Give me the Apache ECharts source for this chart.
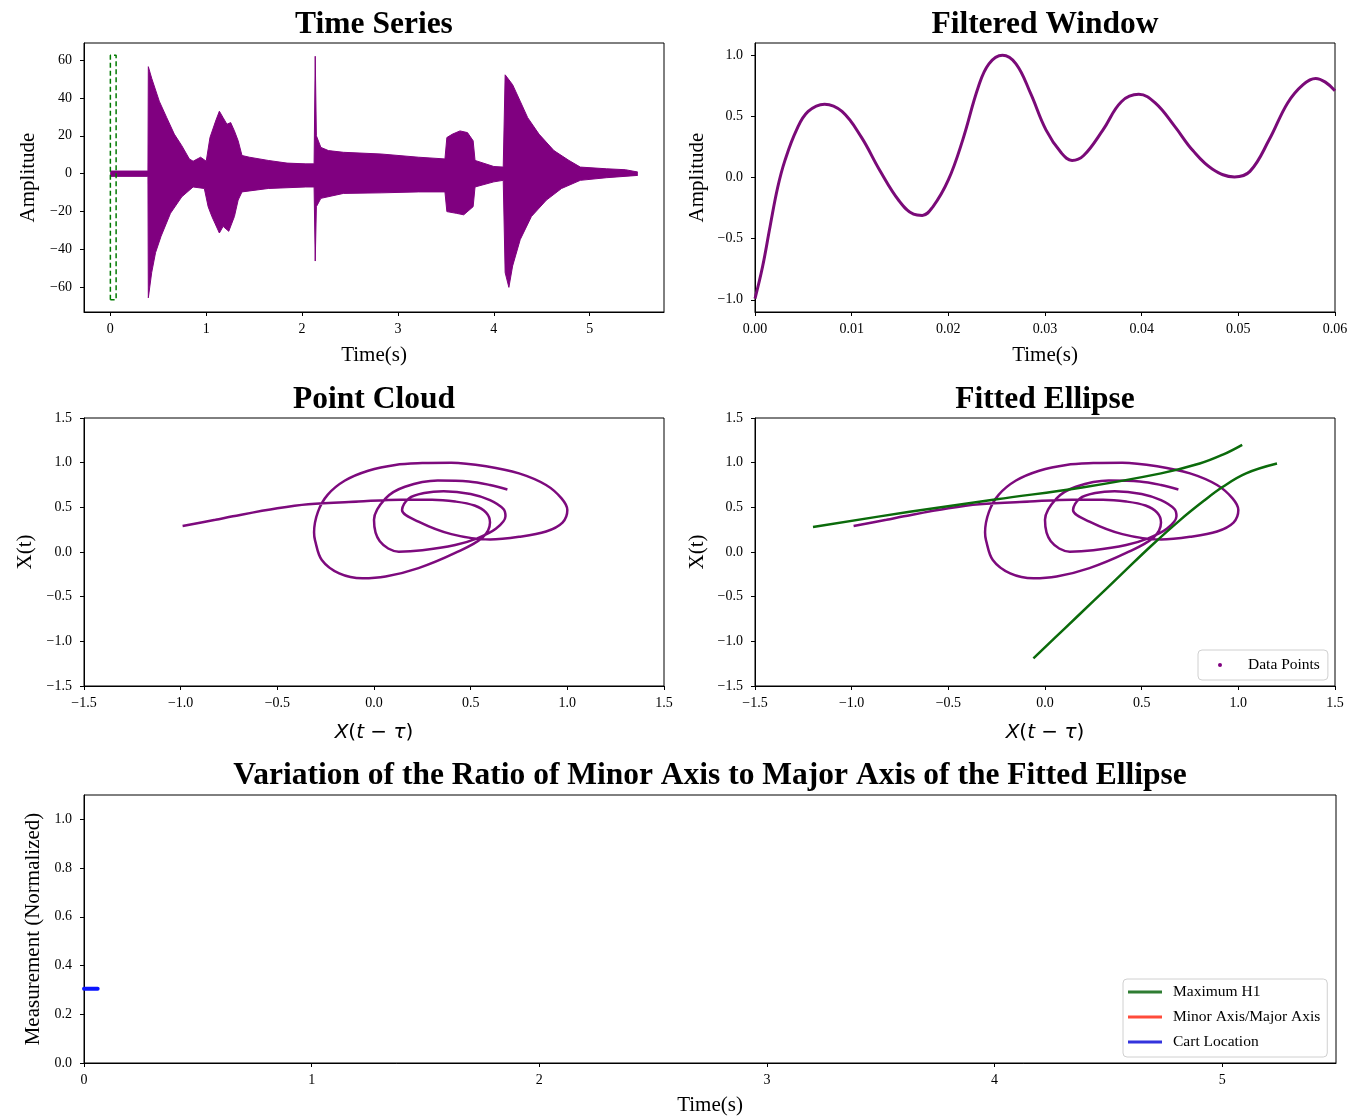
<!DOCTYPE html>
<html>
<head>
<meta charset="utf-8">
<script src="https://cdn.jsdelivr.net/npm/echarts@6.0.0/dist/echarts.min.js"></script>
<style>html,body{margin:0;padding:0;background:#fff}#c{width:1361px;height:1117px}</style>
</head>
<body>
<div id="c"></div>
<script>
// ---------- Time Series (envelope of the dense recording) ----------
const tsUpperTime = [0, 0.392, 0.396, 0.431, 0.51, 0.588, 0.667, 0.745, 0.824, 0.863, 0.941, 1.0, 1.039, 1.098, 1.137, 1.176, 1.216, 1.255, 1.294, 1.333, 1.373, 1.451, 1.647, 1.843, 2.039, 2.125, 2.137, 2.149, 2.196, 2.275, 2.431, 2.824, 3.216, 3.49, 3.51, 3.569, 3.647, 3.725, 3.784, 3.804, 4.0, 4.098, 4.118, 4.137, 4.196, 4.275, 4.353, 4.471, 4.627, 4.784, 4.902, 5.176, 5.373, 5.5];
const tsUpper = [1.4, 1.4, 56.5, 50.4, 38.3, 29.6, 20.9, 14.8, 7.8, 6.6, 8.7, 6.6, 19.1, 27.8, 33.0, 29.6, 26.1, 27.0, 22.6, 17.4, 9.6, 8.7, 7.0, 5.6, 5.2, 5.2, 62, 20.0, 13.9, 12.2, 11.3, 10.4, 8.7, 7.8, 19.1, 20.9, 22.6, 21.7, 17.4, 7.0, 3.8, 3.5, 52.2, 53.0, 47.0, 38.3, 29.6, 20.9, 12.2, 7.0, 3.5, 2.6, 2.1, 0.9];
const tsLowerTime = [0, 0.392, 0.396, 0.431, 0.471, 0.529, 0.627, 0.745, 0.863, 0.98, 1.02, 1.059, 1.137, 1.176, 1.235, 1.294, 1.333, 1.373, 1.647, 2.039, 2.125, 2.137, 2.149, 2.196, 2.431, 2.824, 3.216, 3.49, 3.51, 3.608, 3.686, 3.784, 3.804, 4.0, 4.098, 4.118, 4.157, 4.196, 4.275, 4.392, 4.549, 4.706, 4.902, 5.176, 5.5];
const tsLower = [-1.4, -1.4, -65.5, -52.2, -41.7, -33.0, -20.9, -12.2, -7.0, -7.8, -17.4, -22.6, -31.3, -27.8, -30.4, -22.6, -13.9, -9.6, -7.8, -7.0, -7.0, -46.1, -17.4, -13.0, -10.4, -10.1, -9.6, -9.6, -20.0, -20.9, -21.7, -17.4, -7.0, -4.3, -3.5, -52.2, -60.0, -48.7, -34.8, -22.6, -13.9, -7.8, -3.5, -2.1, -0.9];
const windowStart = 0, windowEnd = 0.06, windowLow = -66.5, windowHigh = 62.5;
const tsXTicks = [0, 1, 2, 3, 4, 5];
const tsYTicks = [-60, -40, -20, 0, 20, 40, 60];

// ---------- Filtered Window ----------
const fwTime = [0, 0.00078, 0.00156, 0.00235, 0.0031, 0.0043, 0.0055, 0.0072, 0.009, 0.011, 0.0129, 0.0149, 0.0164, 0.0173, 0.0184, 0.020, 0.0215, 0.0231, 0.0242, 0.0256, 0.027, 0.0285, 0.0301, 0.0317, 0.0328, 0.034, 0.036, 0.0379, 0.0397, 0.0414, 0.0434, 0.0453, 0.0473, 0.0496, 0.0512, 0.0532, 0.0551, 0.0567, 0.058, 0.059, 0.060];
const fwValue = [-0.99, -0.73, -0.40, -0.08, 0.14, 0.39, 0.54, 0.60, 0.54, 0.33, 0.06, -0.19, -0.30, -0.31, -0.24, -0.02, 0.31, 0.74, 0.93, 1.00, 0.93, 0.69, 0.39, 0.20, 0.14, 0.18, 0.39, 0.62, 0.68, 0.61, 0.42, 0.22, 0.07, 0.005, 0.05, 0.31, 0.61, 0.76, 0.81, 0.78, 0.71];
const fwXTicks = [0, 0.01, 0.02, 0.03, 0.04, 0.05, 0.06];
const fwYTicks = [-1.0, -0.5, 0.0, 0.5, 1.0];

// ---------- Point Cloud (delay embedding) ----------
const pcLagged = [-0.99, -0.82, -0.73, -0.5, -0.34, -0.08, 0.14, 0.3, 0.42, 0.52, 0.58, 0.6, 0.56, 0.42, 0.23, 0.06, -0.06, -0.18, -0.27, -0.305, -0.31, -0.29, -0.24, -0.15, -0.03, 0.11, 0.25, 0.40, 0.58, 0.75, 0.89, 0.97, 1.0, 0.975, 0.89, 0.75, 0.6, 0.40, 0.23, 0.145, 0.18, 0.26, 0.36, 0.5, 0.6, 0.67, 0.68, 0.63, 0.53, 0.42, 0.25, 0.128, 0.03, 0.0, 0.06, 0.16, 0.33, 0.49, 0.6, 0.69];
const pcCurrent = [0.29, 0.36, 0.40, 0.49, 0.535, 0.565, 0.585, 0.585, 0.565, 0.52, 0.44, 0.33, 0.16, -0.01, -0.18, -0.275, -0.295, -0.24, -0.09, 0.13, 0.22, 0.45, 0.64, 0.80, 0.91, 0.975, 0.995, 1.0, 0.96, 0.88, 0.75, 0.6, 0.47, 0.33, 0.23, 0.17, 0.14, 0.20, 0.34, 0.47, 0.60, 0.66, 0.68, 0.65, 0.58, 0.48, 0.40, 0.26, 0.15, 0.078, 0.02, 0.004, 0.12, 0.36, 0.6, 0.73, 0.8, 0.79, 0.75, 0.7];
const pcTicks = [-1.5, -1.0, -0.5, 0.0, 0.5, 1.0, 1.5];

// ---------- Fitted conic (two branches) ----------
const fitBranch1X = [-1.2, -0.7, -0.25, 0.2, 0.6, 0.8, 0.92, 1.02];
const fitBranch1Y = [0.28, 0.45, 0.59, 0.725, 0.88, 0.99, 1.09, 1.2];
const fitBranch2X = [-0.06, 0.1, 0.25, 0.4, 0.55, 0.7, 0.82, 0.92, 1.04, 1.2];
const fitBranch2Y = [-1.19, -0.86, -0.55, -0.24, 0.07, 0.36, 0.57, 0.73, 0.88, 0.99];

// ---------- Ratio panel ----------
const h1Time = [], h1Value = [];
const ratioTime = [], ratioValue = [];
const cartTime = [0.0, 0.06];
const cartValue = [0.305, 0.305];
const ratioXTicks = [0, 1, 2, 3, 4, 5];
const ratioYTicks = [0.0, 0.2, 0.4, 0.6, 0.8, 1.0];

// ---------- helpers ----------
const FONT = 'Liberation Serif';
const PURPLE = '#800080';
const pairs = (a, b) => a.map((v, i) => [v, b[i]]);
const fmtNum = (v, dec) => (v < -1e-9 ? '\u2212' : '') + Math.abs(v).toFixed(dec);

function axis(dim, gridIndex, min, max, ticks, dec, extra) {
  return Object.assign({
    type: 'value', gridIndex, min, max,
    axisLine: {show: true, onZero: false, lineStyle: {color: '#000', width: 1}},
    axisTick: {show: true, inside: false, length: 4, lineStyle: {color: '#000'}, customValues: ticks},
    axisLabel: {show: true, customValues: ticks, color: '#000', fontFamily: FONT, fontSize: 14,
      margin: dim === 'x' ? 10 : 12, formatter: v => fmtNum(v, dec)},
    splitLine: {show: false},
    nameLocation: 'middle',
    nameTextStyle: {fontFamily: FONT, fontSize: 21, color: '#000'}
  }, extra || {});
}
const mathName = {
  rich: {
    i: {fontFamily: 'DejaVu Sans', fontStyle: 'italic', fontSize: 20, color: '#000'},
    r: {fontFamily: 'DejaVu Sans', fontSize: 20, color: '#000'}
  }
};
const mathLabel = '{i|X}{r|(}{i|t}{r| \u2212 }{i|\u03c4}{r|)}';
const gridBase = {show: true, borderColor: '#000', borderWidth: 1, containLabel: false};
const titleStyle = {fontFamily: FONT, fontWeight: 'bold', fontSize: 31.5, color: '#000'};

const option = {
  animation: false,
  backgroundColor: '#fff',
  textStyle: {fontFamily: FONT},
  title: [
    {text: 'Time Series', left: 374, top: 8.5, textAlign: 'center', padding: 0, textStyle: titleStyle},
    {text: 'Filtered Window', left: 1045, top: 8.5, textAlign: 'center', padding: 0, textStyle: titleStyle},
    {text: 'Point Cloud', left: 374, top: 383.5, textAlign: 'center', padding: 0, textStyle: titleStyle},
    {text: 'Fitted Ellipse', left: 1045, top: 383.5, textAlign: 'center', padding: 0, textStyle: titleStyle},
    {text: 'Variation of the Ratio of Minor Axis to Major Axis of the Fitted Ellipse', left: 710, top: 759.5, textAlign: 'center', padding: 0, textStyle: titleStyle}
  ],
  grid: [
    Object.assign({left: 84, top: 43, width: 580, height: 269}, gridBase),
    Object.assign({left: 755, top: 43, width: 580, height: 269}, gridBase),
    Object.assign({left: 84, top: 418, width: 580, height: 268}, gridBase),
    Object.assign({left: 755, top: 418, width: 580, height: 268}, gridBase),
    Object.assign({left: 84, top: 795, width: 1252, height: 268}, gridBase)
  ],
  xAxis: [
    axis('x', 0, -0.275, 5.775, tsXTicks, 0, {name: 'Time(s)', nameGap: 33}),
    axis('x', 1, 0, 0.06, fwXTicks, 2, {name: 'Time(s)', nameGap: 33}),
    axis('x', 2, -1.5, 1.5, pcTicks, 1, {name: mathLabel, nameGap: 37, nameTextStyle: mathName}),
    axis('x', 3, -1.5, 1.5, pcTicks, 1, {name: mathLabel, nameGap: 37, nameTextStyle: mathName}),
    axis('x', 4, 0, 5.5, ratioXTicks, 0, {name: 'Time(s)', nameGap: 32})
  ],
  yAxis: [
    axis('y', 0, -73, 69, tsYTicks, 0, {name: 'Amplitude', nameGap: 45}),
    axis('y', 1, -1.1, 1.1, fwYTicks, 1, {name: 'Amplitude', nameGap: 47}),
    axis('y', 2, -1.5, 1.5, pcTicks, 1, {name: 'X(t)', nameGap: 48}),
    axis('y', 3, -1.5, 1.5, pcTicks, 1, {name: 'X(t)', nameGap: 47}),
    axis('y', 4, 0, 1.1, ratioYTicks, 1, {name: 'Measurement (Normalized)', nameGap: 40})
  ],
  legend: [
    {
      data: [{name: 'Data Points', icon: 'circle'}],
      left: 1198, top: 650, orient: 'vertical',
      padding: [7, 8, 7, 20], itemWidth: 4, itemHeight: 4,
      backgroundColor: '#fff', borderColor: '#d0d0d0', borderWidth: 1, borderRadius: 4,
      textStyle: {fontFamily: FONT, fontSize: 15.5, color: '#000', padding: [0, 0, 0, 21]}
    },
    {
      data: [{name: 'Maximum H1', icon: 'rect'}, {name: 'Minor Axis/Major Axis', icon: 'rect'}, {name: 'Cart Location', icon: 'rect'}],
      left: 1123, top: 979, orient: 'vertical',
      padding: [5, 7, 7, 5], itemWidth: 34, itemHeight: 3, itemGap: 9,
      backgroundColor: '#fff', borderColor: '#d0d0d0', borderWidth: 1, borderRadius: 4,
      textStyle: {fontFamily: FONT, fontSize: 15.5, color: '#000', padding: [0, 0, 0, 6]}
    }
  ],
  series: [
    {type: 'line', name: 'ts-upper', xAxisIndex: 0, yAxisIndex: 0, data: pairs(tsUpperTime, tsUpper),
      symbol: 'none', lineStyle: {color: PURPLE, width: 1}, itemStyle: {color: PURPLE},
      areaStyle: {color: PURPLE, opacity: 1, origin: -1}},
    {type: 'line', name: 'ts-lower', xAxisIndex: 0, yAxisIndex: 0, data: pairs(tsLowerTime, tsLower),
      symbol: 'none', lineStyle: {color: PURPLE, width: 1}, itemStyle: {color: PURPLE},
      areaStyle: {color: PURPLE, opacity: 1, origin: 1}},
    {type: 'line', name: 'window', xAxisIndex: 0, yAxisIndex: 0,
      data: [[windowStart, windowLow], [windowStart, windowHigh], [windowEnd, windowHigh], [windowEnd, windowLow], [windowStart, windowLow]],
      symbol: 'none', lineStyle: {color: '#007a00', width: 1.5, type: [5, 3]}},
    {type: 'line', name: 'filtered', xAxisIndex: 1, yAxisIndex: 1, data: pairs(fwTime, fwValue),
      symbol: 'none', smooth: 0.4, lineStyle: {color: '#7a0a78', width: 3}},
    {type: 'line', name: 'Point Cloud', xAxisIndex: 2, yAxisIndex: 2, data: pairs(pcLagged, pcCurrent),
      symbol: 'none', smooth: 0.35, lineStyle: {color: '#7d0a7d', width: 2.5}},
    {type: 'line', name: 'Data Points', xAxisIndex: 3, yAxisIndex: 3, data: pairs(pcLagged, pcCurrent),
      symbol: 'none', smooth: 0.35, itemStyle: {color: PURPLE}, lineStyle: {color: '#7d0a7d', width: 2.5}},
    {type: 'line', name: 'fit-1', xAxisIndex: 3, yAxisIndex: 3, data: pairs(fitBranch1X, fitBranch1Y),
      symbol: 'none', smooth: 0.4, lineStyle: {color: '#0b6b0b', width: 2.5}},
    {type: 'line', name: 'fit-2', xAxisIndex: 3, yAxisIndex: 3, data: pairs(fitBranch2X, fitBranch2Y),
      symbol: 'none', smooth: 0.4, lineStyle: {color: '#0b6b0b', width: 2.5}},
    {type: 'line', name: 'Maximum H1', xAxisIndex: 4, yAxisIndex: 4, data: pairs(h1Time, h1Value),
      symbol: 'none', itemStyle: {color: '#2e7d32'}, lineStyle: {color: '#2e7d32', width: 2}},
    {type: 'line', name: 'Minor Axis/Major Axis', xAxisIndex: 4, yAxisIndex: 4, data: pairs(ratioTime, ratioValue),
      symbol: 'none', itemStyle: {color: '#ff4b3a'}, lineStyle: {color: '#ff4b3a', width: 2}},
    {type: 'line', name: 'Cart Location', xAxisIndex: 4, yAxisIndex: 4, data: pairs(cartTime, cartValue),
      symbol: 'none', itemStyle: {color: '#3333dd'}, lineStyle: {color: '#0a14ff', width: 4, cap: 'round'}}
  ]
};

const chart = echarts.init(document.getElementById('c'), null, {renderer: 'canvas'});
chart.setOption(option);
</script>
</body>
</html>
